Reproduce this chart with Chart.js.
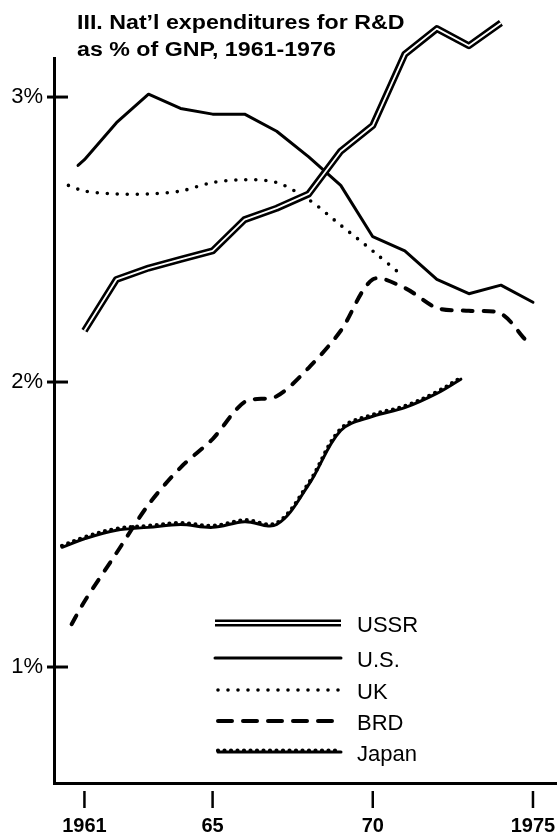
<!DOCTYPE html>
<html>
<head>
<meta charset="utf-8">
<script src="https://cdn.jsdelivr.net/npm/chart.js@4/dist/chart.umd.min.js"></script>
<style>
  html, body { margin: 0; padding: 0; background: #fff; overflow: hidden; }
  canvas { display: block; }
</style>
</head>
<body>
<canvas id="chart" width="557" height="839"></canvas>
<script>
// values (% of GNP)
const years_ussr = [1961, 1962, 1963, 1964, 1965, 1966, 1967, 1968, 1969, 1970, 1971, 1972, 1973, 1974];
const ussr = [2.18, 2.36, 2.40, 2.43, 2.46, 2.57, 2.61, 2.66, 2.81, 2.90, 3.15, 3.24, 3.18, 3.26];

const years_us = [1960.8, 1961, 1962, 1963, 1964, 1965, 1966, 1967, 1968, 1969, 1970, 1971, 1972, 1973, 1974, 1975];
const us = [2.76, 2.78, 2.91, 3.01, 2.96, 2.94, 2.94, 2.88, 2.79, 2.69, 2.51, 2.46, 2.36, 2.31, 2.34, 2.28];

const years_uk = [1960.5, 1961, 1962, 1963, 1964, 1965, 1966, 1967, 1968, 1969, 1970, 1970.85];
const uk = [2.69, 2.67, 2.66, 2.66, 2.67, 2.70, 2.71, 2.70, 2.64, 2.55, 2.46, 2.38];

const years_brd = [1960.6, 1961, 1962, 1963, 1964, 1965, 1966, 1967, 1968, 1969, 1970, 1971, 1972, 1973, 1974, 1974.75];
const brd = [1.15, 1.23, 1.40, 1.57, 1.70, 1.80, 1.93, 1.95, 2.05, 2.18, 2.36, 2.33, 2.26, 2.25, 2.24, 2.15];

const years_japan = [1960.3, 1961, 1962, 1963, 1964, 1965, 1966, 1967, 1968, 1969, 1970, 1971, 1972, 1972.75];
const japan = [1.42, 1.45, 1.48, 1.49, 1.50, 1.49, 1.51, 1.50, 1.64, 1.83, 1.88, 1.91, 1.96, 2.01];

// axis ticks and texts
const x_ticks = [1961, 1965, 1970, 1975];
const x_tick_labels = ['1961', '65', '70', '1975'];
const y_ticks = [1, 2, 3];
const y_tick_labels = ['1%', '2%', '3%'];
const legend_labels = ['USSR', 'U.S.', 'UK', 'BRD', 'Japan'];
const title_lines = ["III. Nat\u2019l expenditures for R&D", 'as % of GNP, 1961-1976'];

const FONT = '"Liberation Sans", Arial, Helvetica, sans-serif';

function pts(xs, ys) {
  return xs.map((x, i) => ({ x: x, y: ys[i] }));
}

// line styles, shared by the datasets and the legend
const style_ussr_outer = { width: 7, dash: [], cap: 'butt' };
const style_ussr_inner = { width: 1.8, dash: [], cap: 'butt', color: '#fff' };
const style_us = { width: 3, dash: [], cap: 'round' };
const style_uk = { width: 3.6, dash: [0, 10], cap: 'round' };
const style_brd = { width: 4, dash: [10, 11], cap: 'round' };
const style_japan = { width: 3, dash: [], cap: 'round' };
const style_japan_beads = { width: 4.2, dash: [0, 6.5], cap: 'round' };

function ds(label, data, st, order, tension, extra) {
  return Object.assign({
    label: label,
    data: data,
    borderColor: st.color || '#000',
    borderWidth: st.width,
    borderDash: st.dash,
    borderCapStyle: st.cap,
    borderJoinStyle: 'round',
    pointRadius: 0,
    tension: tension,
    fill: false,
    clip: false,
    order: order
  }, extra || {});
}

// draw japan beads a bit above the line
const lift_beads = {
  id: 'lift_beads',
  beforeDatasetDraw(chart, args) {
    if (chart.data.datasets[args.index].lift) {
      chart.ctx.save();
      chart.ctx.translate(0, -1.5);
    }
  },
  afterDatasetDraw(chart, args) {
    if (chart.data.datasets[args.index].lift) chart.ctx.restore();
  }
};

function stroke_sample(c, x1, x2, y, st) {
  c.save();
  c.strokeStyle = st.color || '#000';
  c.lineWidth = st.width;
  c.setLineDash(st.dash);
  c.lineCap = st.cap;
  c.beginPath();
  c.moveTo(x1, y);
  c.lineTo(x2, y);
  c.stroke();
  c.restore();
}

// tick marks, title and legend
const decor = {
  id: 'decor',
  afterDraw(chart) {
    const c = chart.ctx;
    const xs = chart.scales.x;
    const ys = chart.scales.y;
    const area = chart.chartArea;

    c.save();
    c.strokeStyle = '#000';
    c.lineCap = 'butt';
    // y ticks cross the axis
    c.lineWidth = 3;
    y_ticks.forEach(v => {
      const py = ys.getPixelForValue(v);
      c.beginPath();
      c.moveTo(area.left - 7, py);
      c.lineTo(area.left + 14, py);
      c.stroke();
    });
    // x ticks sit below the axis with a gap
    c.lineWidth = 2.5;
    x_ticks.forEach(v => {
      const px = xs.getPixelForValue(v);
      c.beginPath();
      c.moveTo(px, area.bottom + 8);
      c.lineTo(px, area.bottom + 25);
      c.stroke();
    });
    c.restore();

    // title
    c.save();
    c.fillStyle = '#000';
    c.font = 'bold 20px ' + FONT;
    c.textBaseline = 'alphabetic';
    c.textAlign = 'left';
    const title_y = [29, 56];
    title_lines.forEach((t, i) => {
      c.save();
      c.translate(77, title_y[i]);
      c.scale(1.16, 1);
      c.fillText(t, 0, 0);
      c.restore();
    });
    c.restore();

    // legend
    const row_y = [623, 658, 690, 721, 752];
    const x1 = 215, x2 = 341;
    stroke_sample(c, x1, x2, row_y[0], style_ussr_outer);
    stroke_sample(c, x1, x2, row_y[0], style_ussr_inner);
    stroke_sample(c, x1, x2, row_y[1], style_us);
    stroke_sample(c, x1 + 3, x2, row_y[2], style_uk);
    stroke_sample(c, x1 + 3, x2, row_y[3], { width: 4, dash: [14, 11], cap: 'round' });
    stroke_sample(c, x1 + 3, x2, row_y[4], style_japan);
    c.save();
    c.translate(0, -1.5);
    stroke_sample(c, x1 + 3, x2, row_y[4], style_japan_beads);
    c.restore();

    c.save();
    c.fillStyle = '#000';
    c.font = '22px ' + FONT;
    c.textBaseline = 'middle';
    c.textAlign = 'left';
    legend_labels.forEach((t, i) => {
      c.fillText(t, 357, row_y[i] + 3);
    });
    c.restore();
  }
};

const chart = new Chart(document.getElementById('chart'), {
  type: 'line',
  data: {
    datasets: [
      ds('USSR', pts(years_ussr, ussr), style_ussr_inner, 0, 0),
      ds('USSR', pts(years_ussr, ussr), style_ussr_outer, 1, 0),
      ds('U.S.', pts(years_us, us), style_us, 2, 0),
      ds('UK', pts(years_uk, uk), style_uk, 3, 0.3),
      ds('BRD', pts(years_brd, brd), style_brd, 4, 0.3),
      ds('Japan', pts(years_japan, japan), style_japan_beads, 5, 0.35, { lift: true }),
      ds('Japan', pts(years_japan, japan), style_japan, 6, 0.35)
    ]
  },
  options: {
    responsive: false,
    animation: false,
    events: [],
    layout: { padding: { top: 58, right: 0, bottom: 0, left: 0 } },
    plugins: {
      legend: { display: false },
      tooltip: { enabled: false },
      title: { display: false }
    },
    scales: {
      x: {
        type: 'linear',
        min: 1960.05,
        max: 1975.75,
        grid: { display: false, drawTicks: false },
        border: { display: true, width: 3, color: '#000' },
        afterBuildTicks: s => { s.ticks = x_ticks.map(v => ({ value: v })); },
        afterFit: s => {
          s.height = 839 - 58 - 725;
          s.paddingLeft = 0;
          s.paddingRight = 0;
        },
        ticks: {
          autoSkip: false,
          maxRotation: 0,
          padding: 31,
          color: '#000',
          font: { family: FONT, size: 20, weight: 'bold' },
          callback: (v, i) => x_tick_labels[i]
        }
      },
      y: {
        type: 'linear',
        min: 0.593,
        max: 3.137,
        grid: { display: false, drawTicks: false },
        border: { display: true, width: 3, color: '#000' },
        afterBuildTicks: s => { s.ticks = y_ticks.map(v => ({ value: v })); },
        afterFit: s => {
          s.width = 54;
          s.paddingTop = 0;
          s.paddingBottom = 0;
        },
        ticks: {
          padding: 11,
          color: '#000',
          font: { family: FONT, size: 22 },
          callback: (v, i) => y_tick_labels[i]
        }
      }
    }
  },
  plugins: [lift_beads, decor]
});
</script>
</body>
</html>
